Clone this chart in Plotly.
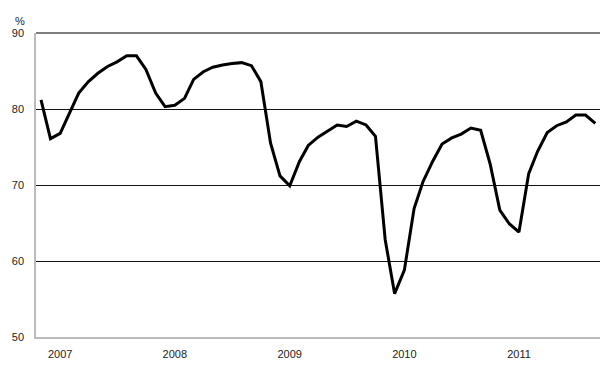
import plotly.graph_objects as go
import pandas as pd

months = pd.date_range("2006-11-01", periods=59, freq="MS")
values = [81.2, 76.1, 76.8, 79.6, 82.1, 83.6, 84.7, 85.6, 86.2, 87.0,
          87.0, 85.2, 82.1, 80.3, 80.5, 81.4, 83.9, 84.9, 85.5, 85.8,
          86.0, 86.1, 85.7, 83.6, 75.5, 71.2, 69.9, 73.1, 75.2, 76.3,
          77.1, 77.9, 77.7, 78.4, 77.9, 76.4, 62.8, 55.7, 58.8, 66.9,
          70.4, 73.1, 75.4, 76.2, 76.7, 77.5, 77.2, 72.8, 66.7, 64.9,
          63.8, 71.5, 74.4, 76.9, 77.8, 78.3, 79.2, 79.2, 78.1]
year_ticks = ["2007-01-01", "2008-01-01", "2009-01-01", "2010-01-01", "2011-01-01"]
year_labels = ["2007", "2008", "2009", "2010", "2011"]
y_ticks = [50, 60, 70, 80, 90]

fig = go.Figure()
fig.add_trace(go.Scatter(x=months, y=values, mode="lines",
                         line=dict(color="black", width=3), hoverinfo="skip"))

fig.update_layout(
    width=600, height=377,
    margin=dict(l=36, r=0, t=33, b=40),
    paper_bgcolor="white", plot_bgcolor="white",
    showlegend=False,
    font=dict(family="Liberation Sans, Arial, sans-serif", size=11, color="#222"),
    xaxis=dict(
        range=["2006-10-16", "2011-09-16"],
        tickvals=year_ticks, ticktext=year_labels,
        showgrid=False, showline=True, linecolor="#bbbbbb", linewidth=1.5,
        ticks="", ticklabelstandoff=6, zeroline=False,
    ),
    yaxis=dict(
        range=[50, 90], tickvals=y_ticks,
        showgrid=True, gridcolor="#111111", gridwidth=1,
        showline=True, linecolor="#bbbbbb", linewidth=1.5,
        ticks="", ticklabelstandoff=8, zeroline=False,
    ),
    shapes=[dict(type="line", xref="paper", yref="paper", x0=0, x1=1, y0=1, y1=1,
                 line=dict(color="#555555", width=1.5))],
    annotations=[dict(text="%", xref="paper", yref="paper", x=0, y=1,
                      xanchor="right", yanchor="bottom", xshift=-9, yshift=4,
                      showarrow=False, font=dict(size=11, color="#222"))],
)

fig.write_html("out.html", config={"displayModeBar": False},
               post_script="document.body.style.margin='0';")
